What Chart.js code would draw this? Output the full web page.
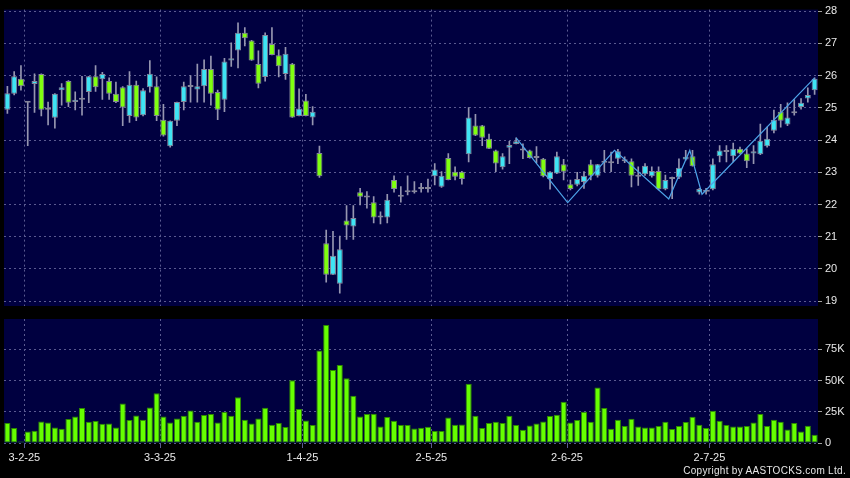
<!DOCTYPE html>
<html><head><meta charset="utf-8">
<script src="https://cdn.jsdelivr.net/npm/chart.js@4.4.1/dist/chart.umd.min.js"></script>
<style>
html,body{margin:0;padding:0;background:#000;width:850px;height:478px;overflow:hidden}
#wrap{position:relative;width:850px;height:478px}
canvas{position:absolute;left:0;top:0}
#copy{position:absolute;right:4px;top:465px;line-height:12px;color:#e6e6e6;font-family:"Liberation Sans",Arial,sans-serif;font-size:10px;letter-spacing:0.3px;white-space:nowrap}
</style></head><body>
<div id="wrap"><canvas id="vol" width="850" height="478"></canvas><canvas id="price" width="850" height="478"></canvas><div id="copy">Copyright by AASTOCKS.com Ltd.</div></div>
<script>
// ---- data ----
const opens  = [24.94,25.44,25.90,25.16,25.74,26.05,24.94,24.69,25.55,25.83,25.18,25.25,25.49,25.98,25.89,25.83,25.44,25.64,24.75,25.72,
                24.77,25.64,25.67,24.63,23.81,24.60,25.18,25.65,25.57,25.67,26.21,25.49,25.25,26.47,26.78,27.33,27.09,26.36,25.96,26.98,
                26.63,26.05,26.37,24.75,25.23,24.70,23.60,20.80,19.82,19.54,21.50,21.32,22.38,22.22,22.07,21.60,21.60,22.76,22.24,22.38,
                22.38,22.48,22.48,22.88,22.55,23.44,23.02,23.02,23.56,24.45,24.45,24.04,23.68,23.16,23.76,23.88,23.68,23.68,23.44,23.42,
                22.79,22.96,23.25,22.63,22.61,22.70,23.25,22.89,23.30,23.28,23.42,23.34,23.34,22.86,22.94,22.88,23.04,22.47,22.79,22.84,
                23.40,23.50,22.37,22.40,22.47,23.50,23.63,23.50,23.73,23.58,23.58,23.56,23.81,24.29,24.88,24.48,24.83,25.03,25.29,25.55];
const highs  = [25.67,26.13,26.31,25.18,26.06,26.06,25.18,25.44,25.75,25.85,25.50,25.98,25.98,26.31,26.10,25.93,25.80,25.66,26.13,25.83,
                25.60,26.47,25.96,25.11,24.60,25.18,25.80,26.00,26.36,26.49,26.61,25.55,26.54,27.02,27.64,27.49,27.10,26.77,27.33,27.49,
                26.80,26.88,26.38,25.59,25.42,25.04,23.81,21.21,21.17,21.02,21.97,21.97,22.50,22.40,22.25,21.77,22.32,22.89,22.56,22.89,
                22.71,22.66,22.79,23.27,23.02,23.58,23.17,23.03,25.01,24.80,24.46,24.19,23.69,23.58,23.96,24.07,23.88,23.69,23.80,23.43,
                23.02,23.63,23.40,22.76,23.00,23.02,23.38,23.25,23.68,23.63,23.71,23.48,23.42,23.17,23.27,23.17,23.17,22.91,22.85,23.42,
                23.68,23.68,22.50,22.50,23.42,23.83,23.83,23.91,23.78,23.73,23.83,24.50,24.40,24.93,25.11,25.16,25.26,25.29,25.62,25.93];
const lows   = [24.83,25.40,25.55,23.83,24.86,24.75,24.47,24.37,25.08,25.04,24.94,24.77,25.16,25.51,25.26,25.26,25.16,24.45,24.55,24.60,
                24.75,25.49,24.60,24.12,23.78,24.45,24.94,25.18,25.18,25.18,25.08,24.63,24.88,26.29,26.24,26.92,26.47,25.62,25.83,26.64,
                25.96,25.88,24.70,24.75,24.75,24.47,22.84,19.59,19.82,19.25,20.92,20.92,21.99,21.89,21.43,21.40,21.43,22.38,22.07,22.30,
                22.35,22.38,22.38,22.61,22.53,22.76,22.76,22.63,23.32,24.14,23.83,23.73,23.02,23.10,23.27,23.88,23.42,23.44,23.30,22.86,
                22.48,22.96,22.76,22.45,22.58,22.50,22.76,22.85,23.02,23.02,23.27,23.30,22.55,22.59,22.90,22.85,22.45,22.45,22.18,22.80,
                23.38,23.19,22.32,22.32,22.45,23.32,23.32,23.32,23.58,23.14,23.27,23.55,23.78,24.22,24.40,24.45,24.77,24.96,25.18,25.42];
const closes = [25.45,25.98,25.67,25.16,25.83,24.94,24.94,25.44,25.64,25.16,25.25,25.25,25.98,25.64,26.05,25.44,25.18,25.01,25.72,24.70,
                25.55,26.06,24.75,24.14,24.60,25.18,25.67,25.65,25.67,26.21,25.44,24.94,26.44,26.54,27.33,27.16,26.47,25.75,27.26,26.64,
                26.29,26.68,24.70,24.98,24.75,24.88,22.88,19.82,20.41,20.61,21.35,21.58,22.24,22.22,21.60,21.66,22.15,22.48,22.30,22.38,
                22.38,22.48,22.53,23.09,22.89,22.76,22.86,22.79,24.70,24.14,24.07,23.73,23.27,23.50,23.85,23.96,23.68,23.44,23.44,22.88,
                23.02,23.50,23.02,22.48,22.79,22.89,22.89,23.25,23.36,23.28,23.65,23.40,22.89,22.86,23.20,23.04,22.47,22.76,22.79,23.14,
                23.48,23.19,22.48,22.45,23.25,23.68,23.63,23.73,23.58,23.34,23.65,23.98,24.04,24.63,24.60,24.70,24.83,25.16,25.40,25.90];
const volumes = [16000,12000,1300,9300,9800,17300,16500,12500,11400,19200,21200,28000,17000,17600,15400,15700,12500,31600,18400,22000,
                 18600,28400,39900,21200,16500,19600,21800,26000,17000,22400,23200,16500,24800,21800,36700,18600,15700,19600,28200,14600,
                 16000,12800,50300,27200,18100,14400,74000,94500,58500,62500,51900,37800,21200,23200,23400,13300,20800,17800,14400,14400,
                 11700,12200,13000,9600,9600,20400,14600,14900,47400,21800,12000,16000,17000,16000,21800,14400,10600,14100,15700,17300,
                 21600,22600,33000,16500,18400,25000,17000,44400,28000,11400,18600,13600,19400,13300,12500,12500,13600,17000,11200,13600,
                 16800,21000,14600,12000,25800,17800,14400,13300,13300,13600,16500,23200,13600,18600,17000,10900,16000,9300,13800,6600];
// trend line drawn on the chart (x = trading-day index, y = price)
const trendX = [75, 82.6, 89.5, 97.5, 100.6, 102.4, 119];
const trendY = [24.07, 22.06, 23.68, 22.17, 23.68, 22.32, 25.93];
// date tick labels and the trading-day index they mark
const tickLabels = ['3-2-25','3-3-25','1-4-25','2-5-25','2-6-25','2-7-25'];
const tickIndex  = [3, 23, 44, 63, 83, 104];
const priceTicks = {min: 18.85, max: 28.05, step: 1};
const volMax = 99200;
const volTickValues = [0, 25000, 50000, 75000];

// ---- build ----
const N = opens.length;
const categories = Array.from({length: N}, () => '');
tickIndex.forEach((idx, k) => { categories[idx] = tickLabels[k]; });

const FONT = '"Liberation Sans", Arial, sans-serif';
const gridColor = '#5a5a90';
const navy = '#000040';
const textColor = '#e8e8e8';
const upColor = '#3fe4f4', downColor = '#80ff10', flatColor = '#b8b8d0';
const candleColor = i => closes[i] > opens[i] ? upColor : (closes[i] < opens[i] ? downColor : flatColor);
const dateGrid = ctx => (categories[ctx.index] ? gridColor : 'rgba(0,0,0,0)');

const bgPlugin = {
  id: 'panelBg',
  beforeDraw(chart) {
    const {ctx, chartArea: a} = chart;
    ctx.save(); ctx.fillStyle = navy;
    ctx.fillRect(a.left, a.top, a.right - a.left, a.bottom - a.top);
    ctx.restore();
  }
};
const common = {
  responsive: false, animation: false, events: [],
  plugins: {legend: {display: false}, tooltip: {enabled: false}}
};

new Chart(document.getElementById('price'), {
  type: 'bar',
  data: {
    labels: categories,
    datasets: [
      {type: 'line', xAxisID: 'xl', data: trendX.map((x, i) => ({x, y: trendY[i]})),
       borderColor: '#4da3e8', borderWidth: 1.2, pointRadius: 0, tension: 0, order: 0},
      {data: opens.map((o, i) => [o, closes[i]]), backgroundColor: c => candleColor(c.dataIndex),
       borderColor: '#85859a', borderWidth: 1, borderSkipped: false, minBarLength: 2,
       barPercentage: 0.88, categoryPercentage: 1, grouped: false, order: 1},
      {data: lows.map((l, i) => [l, highs[i]]), backgroundColor: '#9696b0', borderWidth: 0,
       barThickness: 1, grouped: false, order: 2}
    ]
  },
  options: Object.assign({}, common, {
    layout: {padding: {left: 4, top: 6, right: 0, bottom: 172}},
    scales: {
      x: {offset: true, grid: {offset: true, color: dateGrid, drawTicks: false},
          border: {display: false, dash: [2, 3]}, ticks: {display: false, autoSkip: false},
          afterFit: s => { s.height = 0; }},
      xl: {type: 'linear', display: false, offset: false, grid: {offset: false},
           min: -0.5, max: N - 0.5, bounds: 'ticks'},
      y: {position: 'right', min: priceTicks.min, max: priceTicks.max,
          ticks: {stepSize: priceTicks.step, includeBounds: false, color: textColor, padding: 3,
                  font: {family: FONT, size: 11}},
          grid: {color: gridColor, tickColor: '#a0a0a0', tickLength: 4},
          border: {display: false, dash: [2, 3]},
          afterFit: s => { s.width = 32; }}
    }
  }),
  plugins: [bgPlugin]
});

new Chart(document.getElementById('vol'), {
  type: 'bar',
  data: {
    labels: categories,
    datasets: [{data: volumes, backgroundColor: '#66ff00', borderColor: '#2e8a00', borderWidth: 1,
                borderSkipped: false, barPercentage: 0.9, categoryPercentage: 1}]
  },
  options: Object.assign({}, common, {
    layout: {padding: {left: 4, top: 319, right: 0, bottom: 0}},
    scales: {
      x: {offset: true, grid: {offset: true, color: dateGrid, tickLength: 5},
          border: {display: false, dash: [2, 3]},
          ticks: {autoSkip: false, maxRotation: 0, minRotation: 0, color: textColor, padding: 3,
                  labelOffset: -3.4, font: {family: FONT, size: 11},
                  callback: (v, i) => categories[i]},
          afterFit: s => { s.height = 35; }},
      y: {position: 'right', min: 0, max: volMax,
          afterBuildTicks: s => { s.ticks = volTickValues.map(v => ({value: v})); },
          ticks: {color: textColor, padding: 3, font: {family: FONT, size: 11},
                  callback: v => v === 0 ? '0' : (v / 1000) + 'K'},
          grid: {color: gridColor, tickColor: '#a0a0a0', tickLength: 4},
          border: {display: false, dash: [2, 3]},
          afterFit: s => { s.width = 32; }}
    }
  }),
  plugins: [bgPlugin]
});
</script>
</body></html>
